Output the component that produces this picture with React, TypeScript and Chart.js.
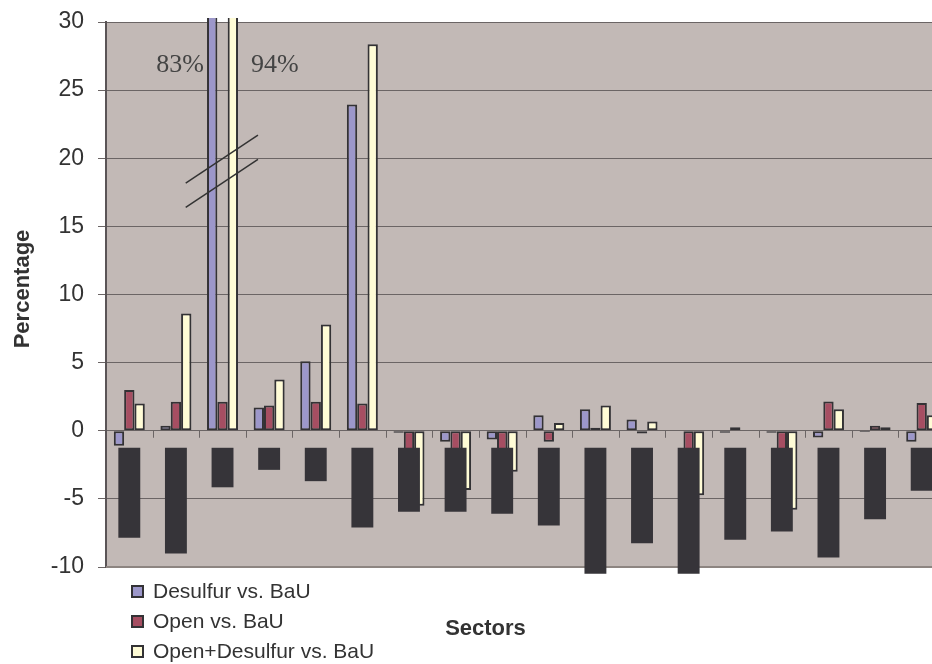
import React, { useEffect, useRef } from "react";
import { Chart, registerables } from "chart.js";

Chart.register(...registerables);

const categories = [
  "S1", "S2", "S3", "S4", "S5", "S6", "S7", "S8", "S9",
  "S10", "S11", "S12", "S13", "S14", "S15", "S16", "S17", "S18",
];
const desulfurVsBaU = [-1.1, 0.37, 83, 1.7, 5.1, 23.95, -0.15, -0.8, -0.65, 1.13, 1.57, 0.83, 0, -0.15, -0.15, -0.5, -0.1, -0.8];
const openVsBaU = [3.0, 2.13, 2.13, 1.86, 2.13, 2.0, -3, -3, -3, -0.8, 0.22, -0.2, -3, 0.25, -3, 2.15, 0.37, 2.03];
const openDesulfurVsBaU = [2.0, 8.6, 94, 3.77, 7.8, 28.36, -5.5, -4.35, -3.0, 0.56, 1.86, 0.68, -4.73, 0, -5.8, 1.57, 0.25, 1.13];
// hidden (blacked-out) label boxes, as [top, bottom] values
const labelBoxTop = -1.25;
const labelBoxBottom = [-7.85, -9.0, -4.15, -2.87, -3.7, -7.1, -5.95, -5.95, -6.1, -6.96, -10.5, -8.26, -10.5, -8.0, -7.4, -9.3, -6.5, -4.4];
const seriesNames = ["Desulfur vs. BaU", "Open vs. BaU", "Open+Desulfur vs. BaU"];
const yTicks = { min: -10, max: 30, step: 5 };
const offScaleLabels = ["83%", "94%"];

const COLORS = ["#9c97ca", "#a64e62", "#fffcd6"];
const BORDER = "#333235";
const PLOT_BG = "#c2b9b6";
const GRID = "#6b6565";
const TEXT = "#333333";

const decorPlugin = {
  id: "decor",
  beforeDraw(chart: any) {
    const { ctx, chartArea: a } = chart;
    ctx.save();
    ctx.fillStyle = PLOT_BG;
    ctx.fillRect(a.left, a.top, a.right - a.left, a.bottom - a.top);
    ctx.restore();
  },
  beforeDatasetsDraw(chart: any) {
    const { ctx, chartArea: a, scales } = chart;
    const x = scales.x;
    const y = scales.y;
    ctx.save();
    ctx.strokeStyle = "#8d8581";
    ctx.lineWidth = 2;
    ctx.beginPath();
    ctx.moveTo(a.left, a.bottom);
    ctx.lineTo(a.right, a.bottom);
    ctx.stroke();
    const y0 = y.getPixelForValue(0);
    ctx.strokeStyle = "#6b6565";
    ctx.lineWidth = 1;
    for (let i = 0; i < categories.length - 1; i++) {
      const px = Math.round(x.getPixelForValue(i + 0.5)) + 0.5;
      ctx.beginPath();
      ctx.moveTo(px, y0);
      ctx.lineTo(px, y0 + 7);
      ctx.stroke();
    }
    ctx.restore();
  },
  afterDraw(chart: any) {
    const { ctx, scales } = chart;
    const x = scales.x;
    const y = scales.y;
    ctx.save();
    const metaBlue = chart.getDatasetMeta(1);
    const metaYellow = chart.getDatasetMeta(3);
    const bBlue = metaBlue.data[2];
    const bYellow = metaYellow.data[2];
    ctx.fillStyle = "#444444";
    ctx.font = "26px 'Liberation Serif', serif";
    ctx.textBaseline = "alphabetic";
    const baseY = y.getPixelForValue(26.3);
    ctx.textAlign = "right";
    ctx.fillText(offScaleLabels[0], bBlue.x - bBlue.width / 2 - 3, baseY);
    ctx.textAlign = "left";
    ctx.fillText(offScaleLabels[1], bYellow.x + bYellow.width / 2 + 13, baseY);

    ctx.strokeStyle = "#333333";
    ctx.lineWidth = 1.5;
    [0, -1.78].forEach((dy) => {
      ctx.beginPath();
      ctx.moveTo(x.getPixelForValue(1.21), y.getPixelForValue(18.18 + dy));
      ctx.lineTo(x.getPixelForValue(2.76), y.getPixelForValue(21.7 + dy));
      ctx.stroke();
    });

    ctx.fillStyle = TEXT;
    ctx.font = "bold 22px 'Liberation Sans', Arial, sans-serif";
    ctx.textAlign = "center";
    ctx.textBaseline = "middle";
    ctx.save();
    ctx.translate(23, 289);
    ctx.rotate(-Math.PI / 2);
    ctx.fillText("Percentage", 0, 0);
    ctx.restore();

    ctx.fillText("Sectors", 485.5, 629);

    ctx.font = "21px 'Liberation Sans', Arial, sans-serif";
    ctx.textAlign = "left";
    ctx.textBaseline = "middle";
    seriesNames.forEach((name, i) => {
      const cy = 591 + i * 30;
      ctx.fillStyle = COLORS[i];
      ctx.fillRect(131, cy - 6, 12, 12);
      ctx.strokeStyle = BORDER;
      ctx.lineWidth = 2;
      ctx.strokeRect(132, cy - 5, 11, 11);
      ctx.fillStyle = TEXT;
      ctx.fillText(name, 153, cy + 1);
    });
    ctx.restore();
  },
};

export default function App() {
  const ref = useRef<HTMLCanvasElement | null>(null);
  useEffect(() => {
    if (!ref.current) return;
    const barClip = { left: 0, top: 4, right: 0, bottom: 0 };
    const chart = new Chart(ref.current, {
      type: "bar",
      data: {
        labels: categories,
        datasets: [
          {
            label: "hidden labels",
            data: labelBoxBottom.map((b) => [labelBoxTop, b]) as any,
            backgroundColor: "#363439",
            borderWidth: 0,
            grouped: false,
            barPercentage: 0.47,
            categoryPercentage: 1,
            clip: false as any,
            order: 0,
          } as any,
          {
            label: seriesNames[0],
            data: desulfurVsBaU,
            backgroundColor: COLORS[0],
            borderColor: BORDER,
            borderWidth: 2,
            borderSkipped: false,
            clip: barClip,
            order: 1,
          },
          {
            label: seriesNames[1],
            data: openVsBaU,
            backgroundColor: COLORS[1],
            borderColor: BORDER,
            borderWidth: 2,
            borderSkipped: false,
            clip: barClip,
            order: 1,
          },
          {
            label: seriesNames[2],
            data: openDesulfurVsBaU,
            backgroundColor: COLORS[2],
            borderColor: BORDER,
            borderWidth: 2,
            borderSkipped: false,
            clip: barClip,
            order: 1,
          },
        ],
      },
      options: {
        responsive: false,
        animation: false,
        layout: { padding: { left: 0, top: 22, right: 5, bottom: 97 } },
        datasets: {
          bar: { categoryPercentage: 0.665, barPercentage: 1 },
        },
        plugins: {
          legend: { display: false },
          tooltip: { enabled: false },
          title: { display: false },
        },
        scales: {
          x: {
            display: false,
            grid: { display: false },
          },
          y: {
            min: yTicks.min,
            max: yTicks.max,
            afterFit: (scale: any) => {
              scale.width = 106;
              scale.paddingTop = 0;
              scale.paddingBottom = 0;
            },
            ticks: {
              stepSize: yTicks.step,
              color: TEXT,
              padding: 14,
              font: { family: "'Liberation Sans', Arial, sans-serif", size: 23 },
            },
            grid: {
              color: GRID,
              lineWidth: 1,
              tickLength: 8,
              tickColor: GRID,
            },
            border: { display: true, color: "#5a5456", width: 2 },
          },
        },
      },
      plugins: [decorPlugin],
    });
    return () => chart.destroy();
  }, []);

  return (
    <div
      style={{
        position: "fixed",
        left: 0,
        top: 0,
        width: 932,
        height: 664,
        overflow: "hidden",
        background: "#ffffff",
      }}
    >
      <canvas ref={ref} width={950} height={664} style={{ display: "block", width: 950, height: 664 }} />
    </div>
  );
}
